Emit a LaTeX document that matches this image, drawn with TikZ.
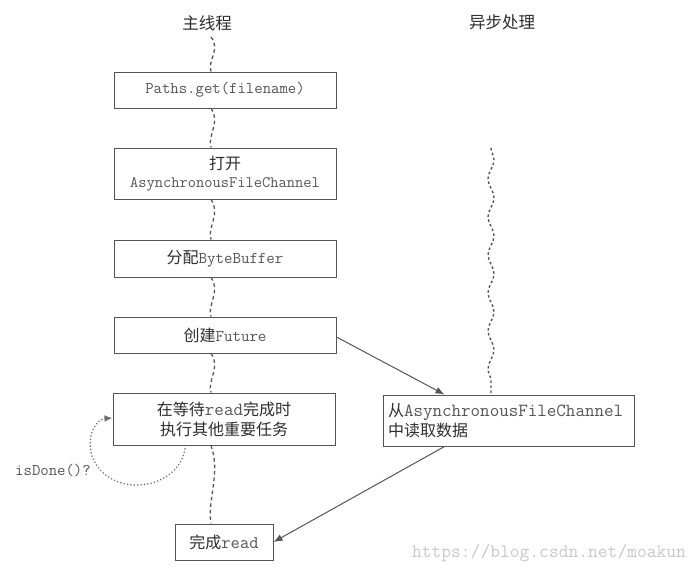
\documentclass[tikz,border=0pt]{standalone}
\usepackage{fontspec}
\newfontfamily\cjk{Noto Sans CJK SC}
\newfontfamily\mono{Latin Modern Mono}
\usetikzlibrary{arrows.meta,decorations.pathmorphing,calc}
\definecolor{lin}{HTML}{555555}
\definecolor{txt}{HTML}{2E2E2E}
\definecolor{mtx}{HTML}{555555}
\definecolor{wm}{HTML}{C8C8C8}
\newcommand{\mt}[1]{{\mono\color{mtx}#1}}
\tikzset{
  stepbox/.style={draw=lin, line width=1pt, rectangle, inner sep=0pt, minimum width=222pt,
    font=\cjk\fontsize{16}{20}\selectfont, text=txt, align=center},
  title/.style={font=\cjk\fontsize{16.5}{20}\selectfont, text=txt},
  wave/.style={draw=lin, line width=1.3pt, dash pattern=on 3.5pt off 3pt,
    to path={.. controls ($(\tikztostart)!0.35!(\tikztotarget)+(10,0)$) and ($(\tikztostart)!0.7!(\tikztotarget)+(-4,0)$) .. (\tikztotarget)}},
  rwave/.style={draw=lin, line width=1.4pt, dash pattern=on 2.5pt off 2.5pt,
    decorate, decoration={snake, segment length=38pt, amplitude=3pt}},
  arr/.style={draw=lin, line width=1pt, -{Latex[length=9pt,width=7pt]}},
  loop/.style={draw=lin!85, line width=1.7pt, dash pattern=on 0.1pt off 3.3pt, line cap=round,
    -{Latex[length=8pt,width=7pt]}}
}
\begin{document}
\begin{tikzpicture}[x=1pt,y=-1pt]
\useasboundingbox (0,0) rectangle (700,573);
\fill[white] (0,0) rectangle (700,573);

\node[title] (t1) at (207,23) {主线程};
\node[title] (t2) at (502,22) {异步处理};

\node[stepbox, minimum height=36pt] (b1) at (225,90) {\fontsize{16.3}{18}\selectfont\mt{Paths.get(filename)}};
\node[stepbox, minimum height=51pt] (b2) at (225,173.5) {打开\\[-2pt]\fontsize{16}{18}\selectfont\mt{AsynchronousFileChannel}};
\node[stepbox, minimum height=37pt] (b3) at (225,258.5) {分配\fontsize{16.5}{18}\selectfont\mt{ByteBuffer}};
\node[stepbox, minimum height=36pt] (b4) at (225,335) {创建\fontsize{16.5}{18}\selectfont\mt{Future}};
\node[stepbox, minimum height=52pt] (b5) at (224,419) {在等待{\fontsize{18.5}{20}\selectfont\mt{read}}完成时\\执行其他重要任务};
\node[stepbox, minimum width=98pt, minimum height=36pt] (b6) at (224,542) {完成{\fontsize{18}{20}\selectfont\mt{read}}};

\node[stepbox, minimum width=0pt, text width=241pt, inner xsep=5pt, minimum height=51pt, align=left] (br) at (508.5,420.5)
  {从{\fontsize{18.5}{20}\selectfont\mt{AsynchronousFileChannel}}\\中读取数据};

\coordinate (mx) at (211,0);
\coordinate (rtop) at (491,148);
\coordinate (ain) at ($(br.north west)+(62,0)$);
\coordinate (aout) at ($(br.south west)+(62,0)$);
\coordinate (lp) at ($(b5.south west)+(73,0)$);

\draw[wave] (t1.south -| mx) ++(0,3) to (b1.north -| mx);
\draw[wave] (b1.south -| mx) to (b2.north -| mx);
\draw[wave] (b2.south -| mx) to (b3.north -| mx);
\draw[wave] (b3.south -| mx) to (b4.north -| mx);
\draw[wave] (b4.south -| mx) to (b5.north -| mx);
\draw[wave] (b5.south -| mx) to (b6.north -| mx);

\draw[rwave] (rtop) -- (br.north -| rtop);

\draw[arr] (b4.east) ++(0,2) -- (ain);
\draw[arr] (aout) -- (b6.east);

\draw[loop] (lp) .. controls (181,492) and (108,500) .. (92,456) .. controls (86,436) and (96,419) .. (b5.west |- 0,418);
\node[font=\mono\fontsize{16.3}{18}\selectfont, text=mtx] (isd) at (53,471) {isDone()?};

\node[font=\mono\fontsize{19}{20}\selectfont, text=wm] (wmk) at (549,553) {https://blog.csdn.net/moakun};
\end{tikzpicture}
\end{document}
